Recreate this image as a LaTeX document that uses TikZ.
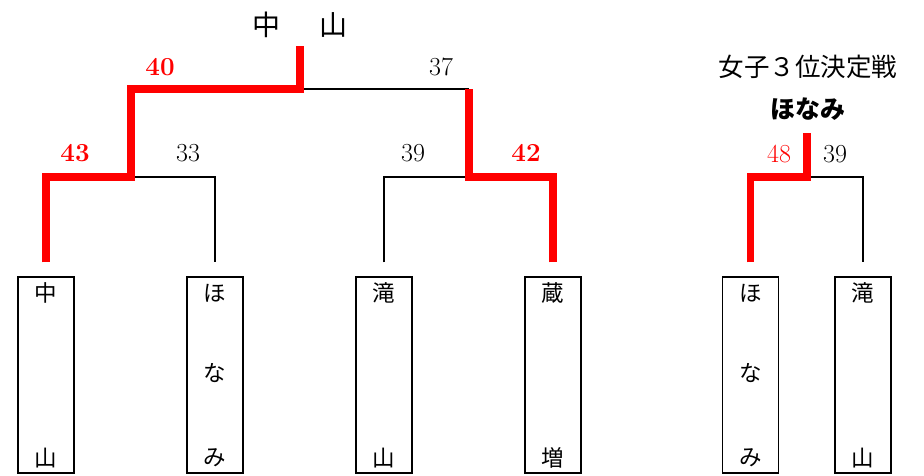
\documentclass[tikz,border=0pt]{standalone}
\usepackage{fontspec}
\newfontfamily\jp{Noto Sans CJK JP}
\begin{document}
\begin{tikzpicture}[x=1pt,y=-1pt,
  box/.style={draw=black,line width=1.2pt,minimum width=56pt,minimum height=196pt,inner sep=0pt,fill=white},
  ch/.style={font=\jp\fontsize{22.5}{22.5}\selectfont,inner sep=0pt},
  num/.style={font=\fontsize{26}{26}\selectfont,inner sep=0pt},
  wnum/.style={num,text=red,font=\bfseries\fontsize{26}{26}\selectfont},
  lose/.style={draw=black,line width=2.3pt},
  win/.style={draw=red,line width=7.5pt,line join=miter}]
\useasboundingbox (0,0) rectangle (924,475);
% boxes
\node[box] (b1) at (46,375) {};
\node[box] (b2) at (215,375) {};
\node[box] (b3) at (384,375) {};
\node[box] (b4) at (553,375) {};
\node[box] (b5) at (750.5,375) {};
\node[box] (b6) at (863,375) {};
% box texts
\node[ch] (c11) at (46,293) {中};
\node[ch] (c12) at (46,458) {山};
\node[ch] (c21) at (215,293) {ほ};
\node[ch] (c22) at (215,373) {な};
\node[ch] (c23) at (215,458) {み};
\node[ch] (c31) at (384,293) {滝};
\node[ch] (c32) at (384,458) {山};
\node[ch] (c41) at (553,293) {蔵};
\node[ch] (c42) at (553,458) {増};
\node[ch] (c51) at (750.5,293) {ほ};
\node[ch] (c52) at (750.5,373) {な};
\node[ch] (c53) at (750.5,458) {み};
\node[ch] (c61) at (863,293) {滝};
\node[ch] (c62) at (863,458) {山};
% line ends above boxes
\foreach \i in {1,...,6}{\coordinate (t\i) at ([yshift=14pt]b\i.north);}
\coordinate (j1) at (131,177);
\coordinate (j2) at (469,177);
\coordinate (jf) at (300,89);
\coordinate (jr) at (469,89);
\coordinate (top) at (300,46);
\coordinate (j3) at (807,177);
\coordinate (top3) at (807,133);
% losing lines
\draw[lose] (j1) -| (t2);
\draw[lose] (t3) |- (j2);
\draw[lose] (jf) -- (jr);
\draw[lose] (j3) -| (t6);
% winning lines
\draw[win] (t1) |- (j1) |- (jf) -- (top);
\draw[win] (t4) |- (j2) -- (jr);
\draw[win] (t5) |- (j3) -- (top3);
% scores
\node[wnum] (s43) at (75,153) {43};
\node[num] (s33) at (188,153) {33};
\node[num] (s39) at (413,153) {39};
\node[wnum] (s42) at (526,153) {42};
\node[wnum] (s40) at (160,67) {40};
\node[num] (s37) at (441,67) {37};
\node[num,text=red] (s48) at (779,154) {48};
\node[num] (s39b) at (835,154) {39};
% titles
\node[font=\jp\fontsize{28}{28}\selectfont,inner sep=0pt] (champ) at (300,25) {中\hspace{39pt}山};
\node[font=\jp\fontsize{25.5}{25.5}\selectfont,inner sep=0pt] (third) at (808,67) {女子３位決定戦};
\node[font=\jp\bfseries\fontsize{25}{25}\selectfont,inner sep=0pt] (thirdw) at (808,109) {ほなみ};
\end{tikzpicture}
\end{document}
